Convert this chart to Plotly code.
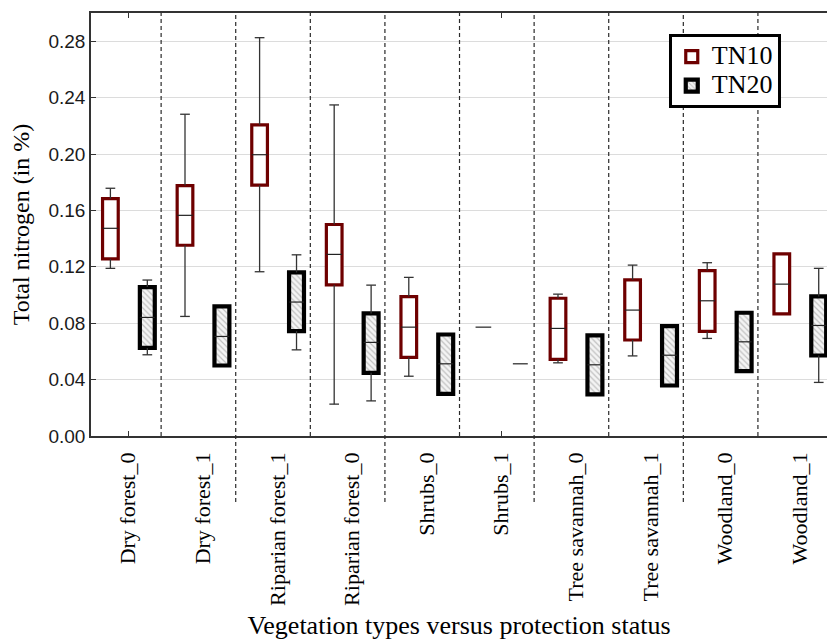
import plotly.graph_objects as go

categories = ["Dry forest_0", "Dry forest_1", "Riparian forest_1", "Riparian forest_0",
              "Shrubs_0", "Shrubs_1", "Tree savannah_0", "Tree savannah_1",
              "Woodland_0", "Woodland_1"]

# TN10 statistics
tn10_lower = [0.1189, 0.0848, 0.1165, 0.0226, 0.0424, 0.0772, 0.0519, 0.0568, 0.0692, 0.0866]
tn10_q1    = [0.1256, 0.1353, 0.1779, 0.1072, 0.0558, 0.0772, 0.0544, 0.0681, 0.0742, 0.0866]
tn10_med   = [0.1473, 0.1565, 0.1995, 0.1288, 0.0772, 0.0772, 0.0763, 0.0893, 0.0959, 0.1077]
tn10_q3    = [0.1684, 0.1776, 0.2207, 0.1500, 0.0989, 0.0772, 0.0977, 0.1107, 0.1173, 0.1292]
tn10_upper = [0.1757, 0.2282, 0.2825, 0.2348, 0.1125, 0.0772, 0.1006, 0.1212, 0.1229, 0.1292]

# TN20 statistics
tn20_lower = [0.0576, 0.0500, 0.0611, 0.0249, 0.0299, 0.0512, 0.0295, 0.0358, 0.0460, 0.0380]
tn20_q1    = [0.0625, 0.0500, 0.0744, 0.0448, 0.0299, 0.0512, 0.0295, 0.0358, 0.0460, 0.0571]
tn20_med   = [0.0841, 0.0706, 0.0950, 0.0664, 0.0512, 0.0512, 0.0505, 0.0573, 0.0668, 0.0784]
tn20_q3    = [0.1056, 0.0919, 0.1160, 0.0869, 0.0720, 0.0512, 0.0713, 0.0779, 0.0874, 0.0990]
tn20_upper = [0.1106, 0.0919, 0.1285, 0.1070, 0.0720, 0.0512, 0.0713, 0.0779, 0.0874, 0.1189]

y_ticks = [0.00, 0.04, 0.08, 0.12, 0.16, 0.20, 0.24, 0.28]
group_ends = ["Dry forest_1", "Riparian forest_0", "Shrubs_1", "Tree savannah_1"]

SERIF = "Liberation Serif, Times New Roman, serif"
SANS = "Liberation Sans, Arial, sans-serif"
RED = "#6e0000"
WHISK = "#333333"

series = [
    dict(name="TN10", lower=tn10_lower, q1=tn10_q1, med=tn10_med, q3=tn10_q3, upper=tn10_upper,
         off=-0.24, width=0.21, line=RED, lw=3.2, pattern=None),
    dict(name="TN20", lower=tn20_lower, q1=tn20_q1, med=tn20_med, q3=tn20_q3, upper=tn20_upper,
         off=0.255, width=0.20, line="#000000", lw=4.2,
         pattern=dict(shape="\\", fgcolor="#8a8a8a", bgcolor="#f4f4f4", size=4, solidity=0.3)),
]

fig = go.Figure()
idx = list(range(len(categories)))

for s in series:
    xs = [i + s["off"] for i in idx]
    heights = [q3 - q1 for q1, q3 in zip(s["q1"], s["q3"])]
    lws = [s["lw"] if h > 1e-9 else 0 for h in heights]
    marker = dict(color="#ffffff", line=dict(color=s["line"], width=lws))
    if s["pattern"]:
        marker["pattern"] = s["pattern"]
    fig.add_trace(go.Bar(x=xs, y=heights, base=s["q1"], width=s["width"],
                         name='<span style="font-size:26px">' + s["name"] + '</span>',
                         marker=marker, hoverinfo="skip"))

for s in series:
    xs = [i + s["off"] for i in idx]
    cap = 0.065
    wx, wy = [], []
    for x, lo, q1, q3, hi in zip(xs, s["lower"], s["q1"], s["q3"], s["upper"]):
        if hi - q3 > 1e-9:
            wx += [x, x, None, x - cap, x + cap, None]
            wy += [q3, hi, None, hi, hi, None]
        if q1 - lo > 1e-9:
            wx += [x, x, None, x - cap, x + cap, None]
            wy += [q1, lo, None, lo, lo, None]
    fig.add_trace(go.Scatter(x=wx, y=wy, mode="lines", line=dict(color=WHISK, width=1.3),
                             showlegend=False, hoverinfo="skip"))
    hw = s["width"] / 2
    mx, my = [], []
    for x, m in zip(xs, s["med"]):
        mx += [x - hw, x + hw, None]
        my += [m, m, None]
    fig.add_trace(go.Scatter(x=mx, y=my, mode="lines", line=dict(color="#222222", width=1.2),
                             showlegend=False, hoverinfo="skip"))

# invisible trace carrying the minor top/bottom tick axis
fig.add_trace(go.Scatter(x=[None], y=[None], xaxis="x2", showlegend=False, hoverinfo="skip"))

shapes = []
for k in range(1, len(categories)):
    xpos = k - 0.56
    below = categories[k - 1] in group_ends
    shapes.append(dict(type="line", xref="x", yref="paper", x0=xpos, x1=xpos,
                       y0=-0.156 if below else 0, y1=1,
                       line=dict(color="#2a2a2a", width=1.2, dash="4px,3px"), layer="above"))

fig.update_layout(
    width=827, height=640,
    margin=dict(l=91, r=0, t=13, b=204, autoexpand=False),
    paper_bgcolor="white", plot_bgcolor="white",
    barmode="overlay",
    shapes=shapes,
    showlegend=True,
    legend=dict(x=0.785, y=0.95, xanchor="left", yanchor="top",
                bgcolor="white", bordercolor="black", borderwidth=3,
                font=dict(family=SERIF, size=20, color="black"),
                tracegroupgap=0, itemwidth=30),
    xaxis=dict(range=[-0.5, 9.366], tickmode="array", tickvals=idx, ticktext=categories,
               tickangle=-90, ticks="", showline=True, linecolor="#333333", linewidth=1.5,
               mirror=True, showgrid=False, zeroline=False, ticklabelstandoff=6,
               tickfont=dict(family=SERIF, size=22, color="black"),
               title=dict(text="Vegetation types versus protection status",
                          font=dict(family=SERIF, size=26, color="black"), standoff=13)),
    xaxis2=dict(overlaying="x", matches="x", anchor="y", tickmode="array", tickvals=[0, 5],
                ticks="inside", ticklen=5, tickcolor="#333333", mirror="ticks",
                showticklabels=False, showline=False, showgrid=False, zeroline=False),
    yaxis=dict(range=[0, 0.30], tickmode="array", tickvals=y_ticks, tickformat=".2f",
               ticks="inside", ticklen=5, tickcolor="#333333", showline=True,
               linecolor="#333333", linewidth=1.5, showgrid=True, gridcolor="#dcdcdc",
               gridwidth=1, zeroline=False,
               tickfont=dict(family=SANS, size=19, color="#1a1a1a"),
               title=dict(text="Total nitrogen (in %)",
                          font=dict(family=SERIF, size=24, color="black"), standoff=12)),
)

fig.write_html("out.html")
